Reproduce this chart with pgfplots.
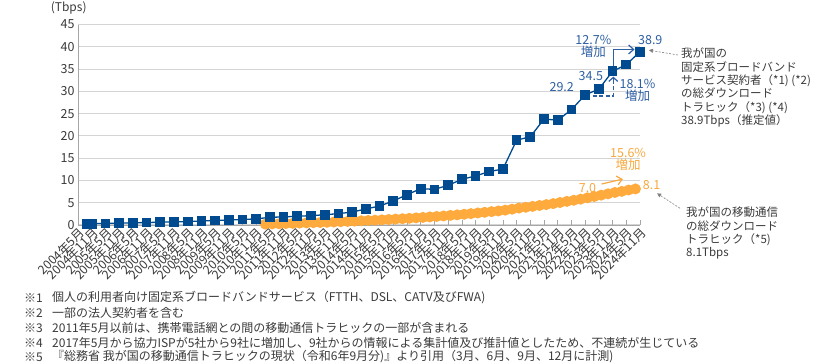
\documentclass[border=0pt]{standalone}
\usepackage{fontspec}
\setmainfont{Noto Sans CJK JP}
\usepackage{pgfplots}
\pgfplotsset{compat=1.18}
\usetikzlibrary{arrows.meta}
\definecolor{fixblue}{HTML}{004A8F}
\definecolor{fixtext}{HTML}{2D5FA3}
\definecolor{mobor}{HTML}{FFAA3C}
\definecolor{mobtext}{HTML}{F7A83E}
\definecolor{gridg}{HTML}{D4D4D4}
\definecolor{axg}{HTML}{A6A6A6}
\definecolor{txt}{HTML}{3A3A3A}
\begin{document}
\begin{tikzpicture}[x=1pt,y=1pt]
\useasboundingbox (0,0) rectangle (817,364);
\begin{axis}[
  at={(78pt,139pt)}, anchor=south west,
  scale only axis, width=562pt, height=200.5pt,
  xmin=0, xmax=41, ymin=0, ymax=45,
  axis lines=left, axis line style={draw=axg, line width=0.8pt, -},
  ymajorgrids, grid style={draw=gridg, line width=1pt},
  ytick={0,5,...,45},
  xtick={0,...,41},
  xticklabels={2004年5月,2004年11月,2005年5月,2005年11月,2006年5月,2006年11月,2007年5月,2007年11月,2008年5月,2008年11月,2009年5月,2009年11月,2010年5月,2010年11月,2011年5月,2011年11月,2012年5月,2012年11月,2013年5月,2013年11月,2014年5月,2014年11月,2015年5月,2015年11月,2016年5月,2016年11月,2017年5月,2017年11月,2018年5月,2018年11月,2019年5月,2019年11月,2020年5月,2020年11月,2021年5月,2021年11月,2022年5月,2022年11月,2023年5月,2023年11月,2024年5月,2024年11月},
  tick align=inside,
  major tick length=5pt,
  x tick style={draw=axg, line width=0.6pt},
  y tick style={draw=none},
  yticklabel style={font=\fontsize{12.5}{12.5}\selectfont, text=txt},
  xticklabel style={rotate=45, anchor=north east, font=\fontsize{12.3}{12.3}\selectfont, text=txt, inner sep=1pt},
  /pgf/number format/assume math mode=true,
  clip=false,
]
% mobile (quarterly)
\addplot[color=mobor, line width=1.5pt, mark=*, mark size=4.7pt, mark options={draw=mobor, fill=mobor}] coordinates {
(13.667,0.20)(14.167,0.24)(14.667,0.28)(15.167,0.33)
(15.667,0.37)(16.167,0.42)(16.667,0.47)(17.167,0.52)
(17.667,0.56)(18.167,0.61)(18.667,0.67)(19.167,0.74)
(19.667,0.80)(20.167,0.87)(20.667,0.94)(21.167,1.01)
(21.667,1.08)(22.167,1.16)(22.667,1.24)(23.167,1.33)
(23.667,1.41)(24.167,1.50)(24.667,1.60)(25.167,1.71)
(25.667,1.81)(26.167,1.92)(26.667,2.03)(27.167,2.16)
(27.667,2.28)(28.167,2.41)(28.667,2.55)(29.167,2.70)
(29.667,2.85)(30.167,3.00)(30.667,3.15)(31.167,3.33)
(31.667,3.55)(32.167,3.80)(32.667,3.98)(33.167,4.18)
(33.667,4.38)(34.167,4.58)(34.667,4.80)(35.167,5.05)
(35.667,5.30)(36.167,5.55)(36.667,5.80)(37.167,6.10)
(37.667,6.40)(38.167,6.70)(38.667,7.00)(39.167,7.30)
(39.667,7.55)(40.167,7.85)(40.667,8.10)
};
% fixed broadband
\addplot[color=fixblue, line width=1.3pt, mark=square*, mark size=4.2pt, mark options={draw=fixblue, fill=fixblue}] coordinates {
(0.667,0.25)(1,0.30)(2,0.35)(3,0.42)(4,0.50)(5,0.55)(6,0.63)(7,0.70)
(8,0.78)(9,0.90)(10,1.03)(11,1.12)(12,1.22)(13,1.38)(14,1.72)(15,1.82)
(16,1.95)(17,2.10)(18,2.30)(19,2.55)(20,2.90)(21,3.60)(22,4.25)(23,5.40)
(24,6.80)(25,8.15)(26,8.00)(27,8.90)(28,10.25)(29,11.00)(30,12.00)(31,12.55)
(32,19.05)(33,19.80)(34,23.80)(35,23.50)(36,25.90)(37,29.20)(38,30.50)(39,34.50)
(40,36.00)(41,38.90)
};
% value labels
\begin{scope}[font=\fontsize{12.5}{13}\selectfont]
\node[text=fixtext] at (axis cs:35.29,31.04) {29.2};
\node[text=fixtext] at (axis cs:37.41,33.39) {34.5};
\node[text=fixtext, align=center, inner sep=0pt] at (axis cs:37.6,40.0) {12.7\%\\[-1pt]増加};
\node[text=fixtext] at (axis cs:41.75,41.5) {38.9};
\node[text=fixtext, align=center, inner sep=0pt] at (axis cs:40.82,30.2) {18.1\%\\[-1pt]増加};
\node[text=mobtext, align=center, inner sep=0pt] at (axis cs:40.13,14.7) {15.6\%\\[-1pt]増加};
\node[text=mobtext] at (axis cs:37.17,8.4) {7.0};
\node[text=mobtext] at (axis cs:41.85,9.0) {8.1};
\end{scope}
% brackets
\draw[fixtext, line width=1.2pt, -{Straight Barb[length=5pt,width=9pt]}] (axis cs:39.05,35.4) -- (axis cs:39.05,39.4) -- (axis cs:40.6,39.4);
\draw[fixtext, line width=1.2pt, dashed, dash pattern=on 4pt off 2.5pt] (axis cs:37.57,28.95) -- (axis cs:39.05,28.95) -- (axis cs:39.05,32.3);
\draw[fixtext, line width=1.2pt, -{Straight Barb[length=4pt,width=9pt]}] (axis cs:39.05,32.4) -- (axis cs:39.05,33.3);
\draw[mobtext, line width=1.2pt, -{Straight Barb[length=5pt,width=9pt]}] (axis cs:38.2,9.2) -- (axis cs:39.75,10.3);
% pointers
\draw[gray, line width=0.6pt, dash pattern=on 2pt off 1.5pt, -{Triangle[length=4pt,width=4pt]}] (axis cs:43.77,38.15) -- (axis cs:41.65,39.25);
\draw[gray, line width=0.6pt, dash pattern=on 2pt off 1.5pt, -{Triangle[length=4pt,width=4pt]}] (axis cs:43.92,3.75) -- (axis cs:42.25,7.1);
\end{axis}
% y unit
\node[text=txt, font=\fontsize{12}{12}\selectfont] at (68.7,356.5) {(Tbps)};
% right annotations
\node[text=txt, anchor=north west, align=left, inner sep=0pt, font=\fontsize{11.5}{13.3}\selectfont] at (681,316) {我が国の\\固定系ブロードバンド\\サービス契約者（*1) (*2)\\の総ダウンロード\\トラヒック（*3) (*4)\\38.9Tbps（推定値）};
\node[text=txt, anchor=north west, align=left, inner sep=0pt, font=\fontsize{11.5}{13.3}\selectfont] at (686,157) {我が国の移動通信\\の総ダウンロード\\トラヒック（*5)\\8.1Tbps};
% footnotes
\begin{scope}[font=\fontsize{12}{12}\selectfont, text=txt]
\node[anchor=west, inner sep=0pt] at (24,66) {※1};
\node[anchor=west, inner sep=0pt] at (52,66) {個人の利用者向け固定系ブロードバンドサービス（FTTH、DSL、CATV及びFWA)};
\node[anchor=west, inner sep=0pt] at (24,51) {※2};
\node[anchor=west, inner sep=0pt] at (52,51) {一部の法人契約者を含む};
\node[anchor=west, inner sep=0pt] at (24,36) {※3};
\node[anchor=west, inner sep=0pt] at (52,36) {2011年5月以前は、携帯電話網との間の移動通信トラヒックの一部が含まれる};
\node[anchor=west, inner sep=0pt] at (24,21) {※4};
\node[anchor=west, inner sep=0pt] at (52,21) {2017年5月から協力ISPが5社から9社に増加し、9社からの情報による集計値及び推計値としたため、不連続が生じている};
\node[anchor=west, inner sep=0pt] at (24,7) {※5};
\node[anchor=west, inner sep=0pt] at (52,7) {『総務省\ 我が国の移動通信トラヒックの現状（令和6年9月分)』より引用（3月、6月、9月、12月に計測)};
\end{scope}
\end{tikzpicture}
\end{document}
